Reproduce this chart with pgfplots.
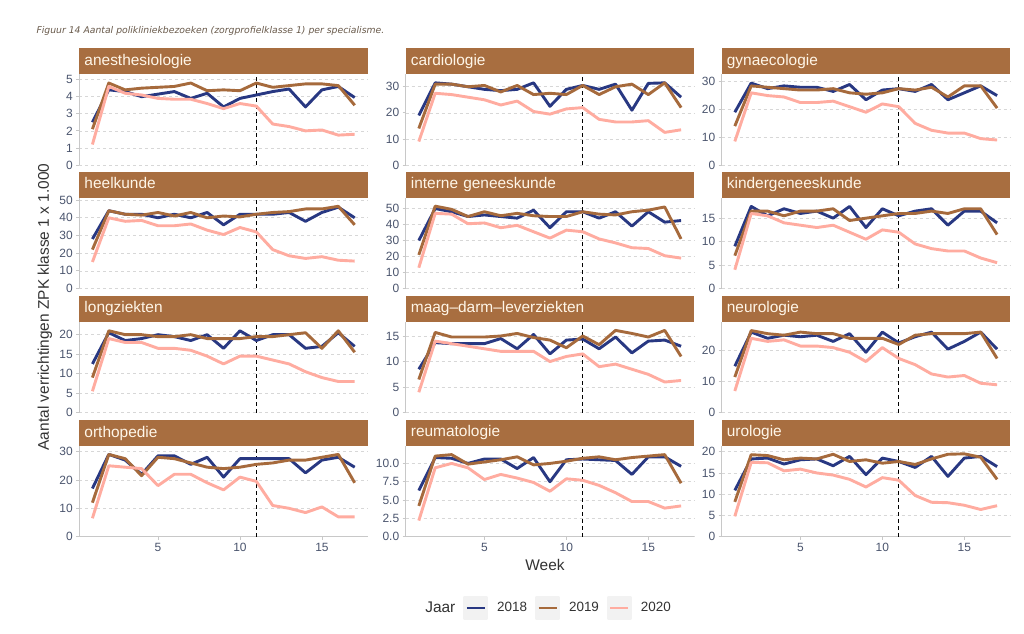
\documentclass[border=0pt]{standalone}
\usepackage{pgfplots}
\pgfplotsset{compat=1.18}
\usepackage{pgfplotstable}
\usepackage{fontspec}
\setmainfont{Liberation Sans}
\newfontfamily\capfont{DejaVu Sans}

\definecolor{c2018}{RGB}{40,56,130}
\definecolor{c2019}{RGB}{166,106,60}
\definecolor{c2020}{RGB}{255,172,160}
\definecolor{strip}{RGB}{168,110,64}
\definecolor{striptext}{RGB}{255,246,232}
\definecolor{tickc}{RGB}{75,85,110}
\definecolor{gridc}{RGB}{215,215,215}
\definecolor{axc}{RGB}{200,200,200}
\definecolor{capc}{RGB}{105,90,75}
\definecolor{keybg}{RGB}{242,242,242}

% columns: week, 2018, 2019, 2020
\pgfplotstableread{
w a b c
1 2.5 2.1 1.2
2 4.4 4.8 4.6
3 4.3 4.4 4.2
4 4.0 4.5 4.1
5 4.15 4.55 3.9
6 4.3 4.6 3.85
7 3.9 4.8 3.85
8 4.2 4.35 3.6
9 3.4 4.4 3.3
10 3.9 4.35 3.6
11 4.1 4.8 3.45
12 4.3 4.55 2.4
13 4.45 4.65 2.25
14 3.4 4.75 2.0
15 4.4 4.75 2.05
16 4.6 4.65 1.75
17 3.95 3.5 1.8
}\tabanest
\pgfplotstableread{
w a b c
1 19 14 9
2 31.5 31 27.5
3 31 31 27
4 30 30 26
5 29 30.5 25
6 28.5 28 23
7 29 30.5 24.5
8 31.5 27 20.5
9 22.5 27.5 19.5
10 29 27 21.5
11 30.5 30.5 22
12 29 27 17.5
13 31 30 16.5
14 21 31 16.5
15 31.3 27 17
16 31.5 31.5 12.5
17 26 22 13.5
}\tabcardio
\pgfplotstableread{
w a b c
1 19 14 8.5
2 29.5 28.5 26
3 27.5 28 25
4 28.5 27.5 24.5
5 28 27 22.5
6 28 27 22.5
7 26.5 27.5 23
8 29 26 21
9 23.5 25.5 19
10 27 26 22
11 27.5 27.5 21
12 26.5 27 15
13 29 28 12.5
14 23.5 24.5 11.5
15 26 28.5 11.5
16 28.5 28.5 9.5
17 25 20.5 9
}\tabgynae
\pgfplotstableread{
w a b c
1 28 22 15
2 44 44 40
3 42 42 38
4 42 41.5 38.5
5 40 43 35.5
6 42 41 35.5
7 40 43 36.5
8 43 40 33
9 36 41 30.5
10 42 40.5 34.5
11 42 42 32
12 42 43 22
13 43 43.5 18.5
14 38 45 17
15 43 45 18
16 46 46.5 16
17 40 36 15.5
}\tabheel
\pgfplotstableread{
w a b c
1 30 21 13
2 50 51.5 47
3 48 49.5 46.5
4 45 45 40.5
5 46 48 41
6 45 45.5 38
7 44 47 39.5
8 49 45.5 35.5
9 38 45 31.5
10 48 45 36.5
11 48 48 35.5
12 44 46.5 31
13 48 46 28.5
14 39 48 25.5
15 48 49 25
16 41.5 51 20.5
17 42.5 31 19
}\tabinterne
\pgfplotstableread{
w a b c
1 9 7 4
2 17.5 16.5 16
3 15.5 16.5 15.5
4 17 15.5 14
5 16 16.5 13.5
6 16.5 16.5 13
7 15 17 13.5
8 17.5 14.5 12
9 13 15 10.5
10 17 15.5 12.5
11 15.5 16 12
12 16.5 16 9.5
13 17 16.5 8.5
14 13.5 16 8
15 16.5 17 8
16 16.5 17 6.5
17 14 11.5 5.5
}\tabkinder
\pgfplotstableread{
w a b c
1 12.5 9 5.5
2 20.5 21 19
3 18.5 20 18
4 19 20 18
5 20 19.5 16.5
6 19.5 19.5 16.5
7 18.5 20 16
8 20 19 14.5
9 16.5 19 12.5
10 21 19 14.5
11 18.5 19.5 14.5
12 20 19.5 13.5
13 20 20 12.5
14 16.5 20.5 10.5
15 17 16.5 9
16 20.5 21 8
17 17 15.5 8
}\tablong
\pgfplotstableread{
w a b c
1 8.5 6.5 4
2 13.7 15.7 14
3 13.5 14.8 13.5
4 13.5 14.8 13
5 13.5 14.8 12.5
6 14.5 15 12
7 12.5 15.5 12
8 15.3 14.7 12
9 11.5 14.2 10
10 14.2 12.7 11
11 14.4 15 11.5
12 12.5 13.3 9
13 14.8 16.1 9.5
14 11.7 15.5 8.5
15 14 14.8 7.5
16 14.2 16.1 6
17 13 11 6.3
}\tabmaag
\pgfplotstableread{
w a b c
1 15 11.5 7
2 26 26.5 24
3 24 25.5 23
4 25 25 23.5
5 24.5 26 21.5
6 25 25.5 21.5
7 23 25.5 21
8 25.5 24 19.5
9 19.5 24 16.5
10 26 24 21
11 22.5 22 17.5
12 24.5 25 15.5
13 26 25.5 12.5
14 20.5 25.5 11.5
15 23 25.5 12
16 26 26 9.5
17 20.5 17.5 9
}\tabneuro
\pgfplotstableread{
w a b c
1 17 12 6.5
2 29 29 25
3 27 27.5 24.5
4 22 21.5 24
5 28.5 28 18
6 28.5 27.5 22
7 25.5 26 22
8 28 24.5 19
9 21 24 16.5
10 27.5 24.5 21
11 27.5 25.5 19.5
12 27.5 26 11
13 27.5 27 10
14 22.5 27 8.5
15 27 28 10.5
16 28 29 7
17 24.5 19 7
}\tabortho
\pgfplotstableread{
w a b c
1 6.3 4.2 2.2
2 10.8 11 9.4
3 10.7 11.2 10
4 10 9.9 9.4
5 10.6 10.2 7.8
6 10.6 10.5 8.5
7 9.3 10.9 8
8 10.8 9.8 7.4
9 7.5 10 6.2
10 10.5 10.3 7.9
11 10.6 10.7 7.7
12 10.5 10.9 7
13 10.4 10.5 6
14 8.5 10.8 4.8
15 10.9 11 4.8
16 10.9 11.2 3.9
17 9.6 7.3 4.2
}\tabreuma
\pgfplotstableread{
w a b c
1 10.9 8.2 4.8
2 18.3 19.3 17.5
3 18.5 19.1 17.4
4 17.1 18.1 15.5
5 18.1 18.5 15.9
6 18.3 18.3 15
7 16.7 19.4 14.5
8 18.9 17.7 13.5
9 14.6 18.1 11.7
10 18.5 17.3 13.9
11 17.7 17.7 13.3
12 16.3 17 9.7
13 18.9 18.3 8.1
14 14.2 19.4 8
15 18.5 19.5 7.4
16 18.9 18.7 6.4
17 16.5 13.5 7.3
}\taburo

\pgfplotsset{
  facet/.style={
    scale only axis, width=288.5bp, height=90.5bp,
    xmin=0.2, xmax=17.8, ymin=0,
    axis y line*=left, axis x line*=bottom,
    y axis line style={axc, line width=0.8bp},
    x axis line style={draw=none}, xtick=\empty,
    ymajorgrids, major grid style={gridc, dash pattern=on 3bp off 3bp, line width=0.6bp},
    tick align=outside, major tick length=3bp, tick style={axc, line width=0.8bp},
    /pgf/number format/assume math mode=true,
    tick label style={font=\fontsize{12}{12}\selectfont, text=tickc},
    every axis title/.style={at={(rel axis cs:0,1)}, anchor=south west,
      fill=strip, text=striptext, font=\fontsize{15.5}{15.5}\selectfont,
      text width=278.5bp, inner xsep=5bp, inner ysep=0pt,
      minimum height=26bp, text height=11.5bp, text depth=3.5bp, align=left},
    every axis plot/.append style={line width=2.9bp, line join=round},
  },
  bottomrow/.style={x axis line style={axc, line width=0.8bp, draw=axc}, xtick={5,10,15}},
}

% #1 table, #2 top of the panel (for the week 11 marker line)
\newcommand\facetlines[2]{%
  \addplot[black, line width=1.2bp, dash pattern=on 4bp off 3bp, forget plot] coordinates {(11,0) (11,#2)};
  \addplot[c2018] table[x=w, y=a] {#1};
  \addplot[c2019] table[x=w, y=b] {#1};
  \addplot[c2020] table[x=w, y=c] {#1};
}

\begin{document}
\begin{tikzpicture}
\path[use as bounding box, fill=white] (0bp,0bp) rectangle (1024bp,634bp);

\node[anchor=west, font=\capfont\itshape\fontsize{9.3}{10}\selectfont, text=capc] at (33bp,603bp)
  {Figuur 14 Aantal polikliniekbezoeken (zorgprofielklasse 1) per specialisme.};

% row 1
\begin{axis}[facet, at={(79.3bp,469bp)}, anchor=south west, title={anesthesiologie},
  ymax=5.3, ytick={0,1,2,3,4,5}]
\facetlines{\tabanest}{5.3}
\end{axis}
\begin{axis}[facet, at={(405.7bp,469bp)}, anchor=south west, title={cardiologie},
  ymax=34.7, ytick={0,10,20,30}]
\facetlines{\tabcardio}{34.7}
\end{axis}
\begin{axis}[facet, at={(721.7bp,469bp)}, anchor=south west, title={gynaecologie},
  ymax=32.6, ytick={0,10,20,30}]
\facetlines{\tabgynae}{32.6}
\end{axis}

% row 2
\begin{axis}[facet, at={(79.3bp,345.5bp)}, anchor=south west, title={heelkunde},
  ymax=51.2, ytick={0,10,20,30,40,50}]
\facetlines{\tabheel}{51.2}
\end{axis}
\begin{axis}[facet, at={(405.7bp,345.5bp)}, anchor=south west, title={interne geneeskunde},
  ymax=56.6, ytick={0,10,20,30,40,50}]
\facetlines{\tabinterne}{56.6}
\end{axis}
\begin{axis}[facet, at={(721.7bp,345.5bp)}, anchor=south west, title={kindergeneeskunde},
  ymax=19.3, ytick={0,5,10,15}]
\facetlines{\tabkinder}{19.3}
\end{axis}

% row 3
\begin{axis}[facet, at={(79.3bp,221.3bp)}, anchor=south west, title={longziekten},
  ymax=23.2, ytick={0,5,10,15,20}]
\facetlines{\tablong}{23.2}
\end{axis}
\begin{axis}[facet, at={(405.7bp,221.3bp)}, anchor=south west, title={maag\textendash darm\textendash leverziekten},
  ymax=17.7, ytick={0,5,10,15}]
\facetlines{\tabmaag}{17.7}
\end{axis}
\begin{axis}[facet, at={(721.7bp,221.3bp)}, anchor=south west, title={neurologie},
  ymax=29.2, ytick={0,10,20}]
\facetlines{\tabneuro}{29.2}
\end{axis}

% row 4
\begin{axis}[facet, bottomrow, at={(79.3bp,97.3bp)}, anchor=south west, title={orthopedie},
  ymax=31.9, ytick={0,10,20,30}]
\facetlines{\tabortho}{31.9}
\end{axis}
\begin{axis}[facet, bottomrow, at={(405.7bp,97.3bp)}, anchor=south west, title={reumatologie},
  ymax=12.35, ytick={0,2.5,5,7.5,10},
  yticklabel style={/pgf/number format/.cd, fixed, fixed zerofill, precision=1},
  legend style={at={(0.036,-0.788)}, anchor=west, legend columns=-1, draw=none, fill=none,
    inner sep=0pt, font=\fontsize{13.5}{13.5}\selectfont, text=black!80,
    nodes={inner xsep=0pt},
    /tikz/every odd column/.append style={column sep=9bp},
    /tikz/every even column/.append style={column sep=8bp}},
  legend image code/.code={\fill[keybg] (0bp,-11bp) rectangle (22bp,11bp);
    \draw[#1] (2bp,0bp) -- (20bp,0bp);},
  legend entries={{\fontsize{15.5}{15.5}\selectfont Jaar},2018,2019,2020}]
\addlegendimage{empty legend}
\facetlines{\tabreuma}{12.35}
\end{axis}
\begin{axis}[facet, bottomrow, at={(721.7bp,97.3bp)}, anchor=south west, title={urologie},
  ymax=21.3, ytick={0,5,10,15,20}]
\facetlines{\taburo}{21.3}
\end{axis}

\node[font=\fontsize{15.5}{15.5}\selectfont, text=black!80] at (545bp,69bp) {Week};
\node[rotate=90, font=\fontsize{15.5}{15.5}\selectfont, text=black!80] at (45bp,327bp)
  {Aantal verrichtingen ZPK klasse 1 x 1.000};
\end{tikzpicture}
\end{document}
